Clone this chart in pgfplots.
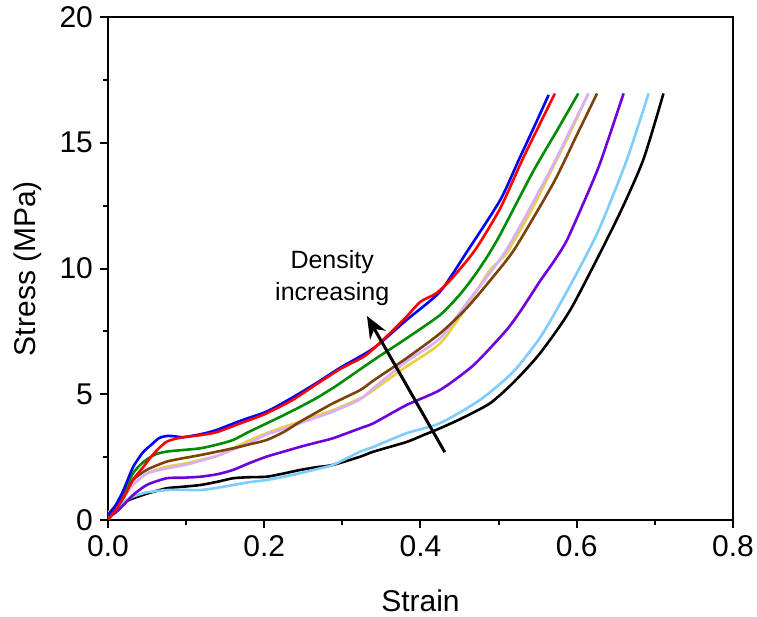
\documentclass[border=0pt]{standalone}
\usepackage{pgfplots}
\pgfplotsset{compat=1.18}
\usepackage{fontspec}
\setmainfont{Liberation Sans}
\usetikzlibrary{arrows.meta}
\definecolor{cblue}{RGB}{0,0,255}
\definecolor{cred}{RGB}{255,0,0}
\definecolor{cgreen}{RGB}{0,140,0}
\definecolor{clilac}{RGB}{215,175,250}
\definecolor{cyellow}{RGB}{230,210,60}
\definecolor{cbrown}{RGB}{125,65,10}
\definecolor{cpurple}{RGB}{110,0,220}
\definecolor{clblue}{RGB}{125,205,255}
\begin{document}
\begin{tikzpicture}
\begin{axis}[
  scale only axis, width=312.5pt, height=251.5pt,
  xmin=0, xmax=0.8, ymin=0, ymax=20,
  xtick={0,0.2,0.4,0.6,0.8}, ytick={0,5,10,15,20},
  minor xtick={0.1,0.3,0.5,0.7}, minor ytick={2.5,7.5,12.5,17.5},
  xticklabels={0.0,0.2,0.4,0.6,0.8},
  xtick pos=left, ytick pos=left, tick align=outside,
  major tick length=4pt, minor tick length=2.5pt,
  every tick/.style={black, line width=1pt},
  axis line style={line width=1.2pt},
  /pgf/number format/assume math mode=true,
  tick label style={font=\fontsize{15}{17}\selectfont},
  label style={font=\fontsize{15}{17}\selectfont},
  xlabel={Strain}, ylabel={Stress (MPa)},
  xlabel style={at={(axis description cs:0.5,-0.161)}, anchor=center},
  ylabel style={at={(axis description cs:-0.128,0.5)}, anchor=center},
  every axis plot/.append style={line width=1.3pt, smooth, tension=0.4, mark=none},
  clip=true,
]
\addplot[black] coordinates {(0,0.1)(0.01,0.45)(0.02,0.7)(0.032,0.86)(0.05,1.05)(0.075,1.26)(0.095,1.32)(0.118,1.39)(0.14,1.52)(0.16,1.66)(0.18,1.7)(0.203,1.72)(0.225,1.85)(0.246,1.99)(0.267,2.1)(0.288,2.19)(0.323,2.52)(0.34,2.72)(0.382,3.1)(0.404,3.38)(0.42,3.58)(0.45,4.0)(0.489,4.64)(0.52,5.5)(0.553,6.63)(0.593,8.42)(0.651,11.93)(0.685,14.31)(0.711,16.96)};
\addplot[clblue] coordinates {(0,0.1)(0.01,0.4)(0.02,0.7)(0.032,0.93)(0.05,1.1)(0.075,1.19)(0.095,1.2)(0.118,1.19)(0.14,1.28)(0.16,1.39)(0.18,1.5)(0.203,1.59)(0.225,1.72)(0.246,1.86)(0.267,2.02)(0.288,2.19)(0.323,2.72)(0.34,2.91)(0.382,3.45)(0.425,3.85)(0.476,4.77)(0.519,5.9)(0.553,7.25)(0.576,8.45)(0.605,10.1)(0.63,11.66)(0.664,14.31)(0.692,16.96)};
\addplot[cpurple] coordinates {(0,0.1)(0.01,0.3)(0.02,0.6)(0.032,0.99)(0.05,1.4)(0.075,1.66)(0.095,1.68)(0.118,1.72)(0.14,1.82)(0.16,1.99)(0.18,2.25)(0.203,2.52)(0.225,2.72)(0.246,2.91)(0.267,3.08)(0.288,3.25)(0.323,3.65)(0.34,3.85)(0.382,4.57)(0.425,5.17)(0.468,6.16)(0.51,7.55)(0.53,8.4)(0.553,9.5)(0.57,10.25)(0.587,11.1)(0.61,12.7)(0.63,14.2)(0.66,16.96)};
\addplot[cyellow] coordinates {(0,0.3)(0.01,0.55)(0.02,0.9)(0.032,1.4)(0.05,1.85)(0.075,2.12)(0.1,2.25)(0.118,2.39)(0.14,2.55)(0.16,2.85)(0.18,3.15)(0.203,3.45)(0.225,3.7)(0.246,3.91)(0.267,4.15)(0.288,4.37)(0.323,4.84)(0.34,5.17)(0.382,6.1)(0.425,7.02)(0.459,8.48)(0.489,9.94)(0.51,10.6)(0.54,12.2)(0.566,13.8)(0.59,15.3)(0.614,16.9)};
\addplot[clilac] coordinates {(0,0.2)(0.01,0.5)(0.02,0.9)(0.032,1.4)(0.05,1.85)(0.075,2.05)(0.1,2.2)(0.118,2.35)(0.14,2.55)(0.16,2.8)(0.18,3.05)(0.203,3.4)(0.225,3.62)(0.246,3.85)(0.267,4.08)(0.288,4.31)(0.323,4.8)(0.34,5.25)(0.382,6.3)(0.425,7.22)(0.459,8.62)(0.51,10.74)(0.566,13.9)(0.59,15.4)(0.615,16.96)};
\addplot[cbrown] coordinates {(0,0.1)(0.01,0.45)(0.02,0.9)(0.032,1.59)(0.05,2.0)(0.075,2.32)(0.095,2.45)(0.118,2.58)(0.14,2.72)(0.16,2.85)(0.18,3.0)(0.203,3.18)(0.225,3.5)(0.246,3.91)(0.267,4.28)(0.288,4.64)(0.323,5.17)(0.34,5.55)(0.382,6.43)(0.425,7.42)(0.459,8.42)(0.493,9.67)(0.521,10.8)(0.57,13.39)(0.6,15.3)(0.626,16.96)};
\addplot[cgreen] coordinates {(0,0.15)(0.01,0.5)(0.02,1.05)(0.032,1.86)(0.045,2.3)(0.06,2.6)(0.075,2.72)(0.095,2.78)(0.118,2.85)(0.14,3.0)(0.16,3.18)(0.18,3.5)(0.203,3.84)(0.225,4.17)(0.246,4.5)(0.267,4.85)(0.288,5.25)(0.3,5.5)(0.34,6.36)(0.382,7.22)(0.425,8.15)(0.45,8.95)(0.468,9.67)(0.485,10.45)(0.502,11.35)(0.544,13.85)(0.575,15.5)(0.602,16.96)};
\addplot[cblue] coordinates {(0,0.2)(0.01,0.6)(0.02,1.2)(0.032,2.1)(0.045,2.7)(0.054,2.95)(0.065,3.25)(0.075,3.34)(0.085,3.33)(0.096,3.29)(0.12,3.42)(0.139,3.58)(0.17,3.95)(0.203,4.31)(0.235,4.85)(0.267,5.45)(0.297,6.05)(0.34,6.83)(0.382,7.95)(0.425,9.08)(0.461,10.74)(0.502,12.72)(0.527,14.4)(0.545,15.6)(0.564,16.9)};
\addplot[cred] coordinates {(0,0)(0.01,0.4)(0.02,0.9)(0.032,1.6)(0.045,2.1)(0.054,2.47)(0.065,2.85)(0.075,3.11)(0.085,3.22)(0.096,3.29)(0.12,3.38)(0.14,3.5)(0.17,3.85)(0.2,4.2)(0.235,4.75)(0.267,5.4)(0.297,6.0)(0.33,6.55)(0.36,7.4)(0.382,8.08)(0.4,8.68)(0.42,9.01)(0.44,9.6)(0.47,10.74)(0.502,12.39)(0.53,14.3)(0.552,15.7)(0.572,16.96)};
\draw[-{Stealth[length=11pt,width=9pt]}, line width=1.5pt] (axis cs:0.431,2.7) -- (axis cs:0.3315,8.11);
\node[font=\fontsize{12.5}{15}\selectfont, align=center] at (axis cs:0.287,9.62) {Density\\[1pt]increasing};
\coordinate (sw) at (rel axis cs:0,0);
\coordinate (ne) at (rel axis cs:1,1);
\end{axis}
\pgfresetboundingbox
\path (sw) ++(-54pt,-48.5pt) coordinate (a);
\path (ne) ++(12pt,8.5pt) coordinate (b);
\path[use as bounding box] (a) rectangle (b);
\end{tikzpicture}
\end{document}
